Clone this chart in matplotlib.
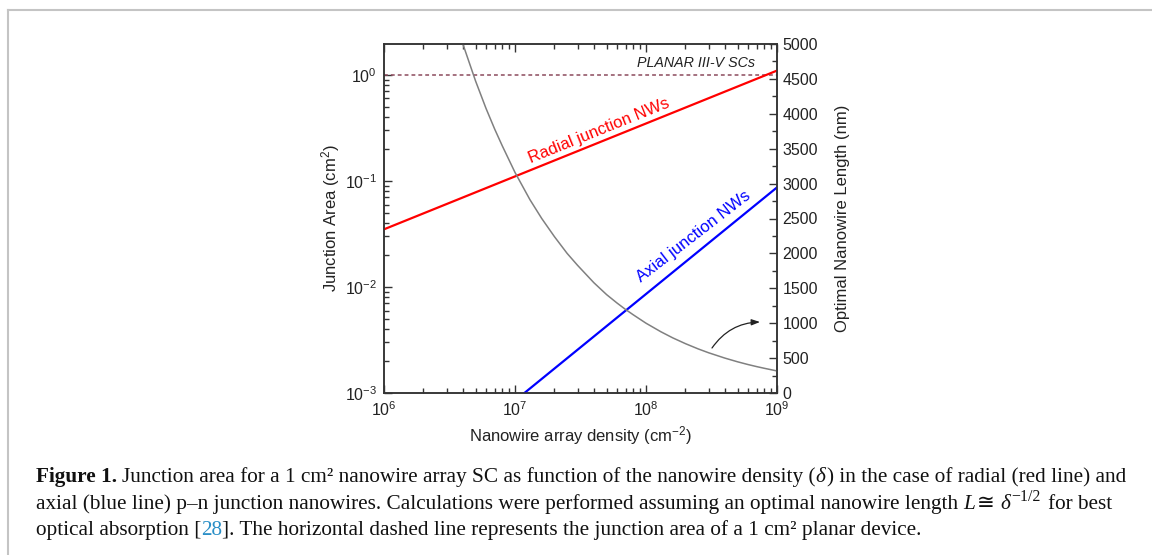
import numpy as np
import matplotlib
matplotlib.use("Agg")
import matplotlib.pyplot as plt
from matplotlib.lines import Line2D
from matplotlib.ticker import LogLocator, MultipleLocator, NullFormatter, LogFormatterSciNotation

plt.rcParams['font.family'] = ['Liberation Sans', 'DejaVu Sans']
plt.rcParams['mathtext.fontset'] = 'custom'
plt.rcParams['mathtext.rm'] = 'Liberation Sans'
plt.rcParams['mathtext.it'] = 'Liberation Sans:italic'
plt.rcParams['axes.unicode_minus'] = False

# ---------------- data ----------------
radial_density = [1e6, 1e9]
radial_area = [0.035, 1.1]
axial_density = [1.18e7, 1e9]
axial_area = [1e-3, 0.087]
planar_area = 1.0
length_density = [4.0e6, 5e6, 6e6, 7e6, 8e6, 1e7, 1.3e7, 1.6e7, 2e7, 2.5e7, 3e7, 4e7,
                  5e7, 6e7, 7e7, 8e7, 1e8, 1.3e8, 1.6e8, 2e8, 2.5e8, 3e8, 4e8, 5e8,
                  6e8, 7e8, 8e8, 1e9]
length_nm = [5000, 4470, 4080, 3780, 3540, 3160, 2770, 2500, 2240, 2000, 1830, 1580,
             1410, 1290, 1195, 1120, 1000, 877, 790, 707, 632, 577, 500, 447,
             408, 378, 354, 316]

W, H = 1152, 555
fig = plt.figure(figsize=(W / 100, H / 100), dpi=100)
ax = fig.add_axes([384 / W, 1 - 393 / H, (777 - 384) / W, (393 - 44) / H])
ax2 = ax.twinx()

ax.set_xscale('log')
ax.set_yscale('log')
ax.set_xlim(1e6, 1e9)
ax.set_ylim(1e-3, 1.96)
ax2.set_ylim(0, 5000)

ax.plot(radial_density, radial_area, color='#ff0000', lw=1.6, zorder=3)
ax.plot(axial_density, axial_area, color='#0000ff', lw=1.6, zorder=3)
ax.axhline(planar_area, color='#8b4a5c', lw=1.1, ls=(0, (2.5, 2)), zorder=2)
ax2.plot(length_density, length_nm, color='#808080', lw=1.1, zorder=2)

# tick styling
for a in (ax, ax2):
    for s in a.spines.values():
        s.set_linewidth(1.1)
        s.set_color('#333333')
ax.tick_params(axis='both', which='major', direction='in', length=6, width=1.0,
               labelsize=11.5, colors='#333333', labelcolor='#222222', pad=5)
ax.tick_params(axis='both', which='minor', direction='in', length=3.5, width=1.0, colors='#333333')
ax.tick_params(axis='x', which='both', top=True)
ax.tick_params(axis='y', which='both', right=False)
ax.xaxis.set_major_locator(LogLocator(base=10, numticks=10))
ax.xaxis.set_minor_locator(LogLocator(base=10, subs=np.arange(2, 10), numticks=20))
ax.yaxis.set_major_locator(LogLocator(base=10, numticks=10))
ax.yaxis.set_minor_locator(LogLocator(base=10, subs=np.arange(2, 10), numticks=20))
ax.xaxis.set_minor_formatter(NullFormatter())
ax.yaxis.set_minor_formatter(NullFormatter())
ax.xaxis.set_major_formatter(LogFormatterSciNotation())
ax.yaxis.set_major_formatter(LogFormatterSciNotation())

ax2.yaxis.set_major_locator(MultipleLocator(500))
ax2.yaxis.set_minor_locator(MultipleLocator(250))
ax2.tick_params(axis='y', which='major', direction='in', length=6, width=1.0,
                labelsize=11.5, colors='#333333', labelcolor='#222222', pad=4)
ax2.tick_params(axis='y', which='minor', direction='in', length=3.5, width=1.0, colors='#333333')

ax.set_xlabel('Nanowire array density (cm$^{-2}$)', fontsize=12, color='#222222', labelpad=4)
ax.set_ylabel('Junction Area (cm$^{2}$)', fontsize=12, color='#222222', labelpad=2)
ax2.set_ylabel('Optimal Nanowire Length (nm)', fontsize=12, color='#222222', labelpad=12)

# annotations
fig.canvas.draw()
def angle_of(xs, ys):
    p = ax.transData.transform(np.column_stack([xs, ys]))
    return np.degrees(np.arctan2(p[1, 1] - p[0, 1], p[1, 0] - p[0, 0]))

inv = ax.transData.inverted()
def px_to_data(x, y):
    return inv.transform((x, H - y))

rx, ry = px_to_data(599, 131)
ax.text(rx, ry, 'Radial junction NWs', color='#ff0000', fontsize=12,
        rotation=angle_of(radial_density, radial_area), rotation_mode='anchor',
        ha='center', va='center')
bx, by = px_to_data(694, 236)
ax.text(bx, by, 'Axial junction NWs', color='#0000ff', fontsize=12,
        rotation=angle_of(axial_density, axial_area) - 1.5, rotation_mode='anchor',
        ha='center', va='center')
px_, py_ = px_to_data(755, 67)
ax.text(px_, py_, 'PLANAR III-V SCs', style='italic', fontsize=10.3, color='#222222',
        ha='right', va='baseline')

inv2 = ax2.transData.inverted()
s = inv2.transform((712, H - 348))
e = inv2.transform((760, H - 322))
ax2.annotate('', xy=e, xytext=s,
             arrowprops=dict(arrowstyle='-|>,head_length=0.5,head_width=0.18', color='#222222',
                             lw=0.9, connectionstyle='arc3,rad=-0.25', shrinkA=0, shrinkB=0))

# frame lines of the page
fig.add_artist(Line2D([8 / W, 1], [1 - 10 / H, 1 - 10 / H], color='#c4c4c4', lw=1.5))
fig.add_artist(Line2D([8 / W, 8 / W], [0, 1 - 10 / H], color='#c4c4c4', lw=1.5))

# ---------------- caption ----------------
renderer = fig.canvas.get_renderer()
SERIF = ['Liberation Serif', 'DejaVu Serif', 'DejaVu Sans']
LINK = '#2a8fc7'

def style_kw(st, fs):
    if st == 'b':
        return dict(fontweight='bold', fontsize=fs, color='#111111')
    if st == 'i':
        return dict(style='italic', fontsize=fs, color='#111111')
    if st == 'sup':
        return dict(fontsize=fs * 0.75, color='#111111')
    if st == 'link':
        return dict(fontsize=fs, color=LINK)
    return dict(fontsize=fs, color='#111111')

caption_lines = [
    [("Figure 1.", 'b', False),
     ("Junction area for a 1 cm\u00b2 nanowire array SC as function of the nanowire density (", 'n', True),
     ("\u03b4", 'i', False),
     (") in the case of radial (red line) and", 'n', False)],
    [("axial (blue line) p\u2013n junction nanowires. Calculations were performed assuming an optimal nanowire length", 'n', False),
     ("L", 'i', True), ("\u2245", 'n', False), ("\u03b4", 'i', True), ("\u22121/2", 'sup', False),
     ("for best", 'n', True)],
    [("optical absorption [", 'n', False), ("28", 'link', False),
     ("]. The horizontal dashed line represents the junction area of a 1 cm\u00b2 planar device.", 'n', False)],
]
baselines = [482, 509, 535]
x_start = 36

def measure(txt, kw):
    t = fig.text(0, 0, txt, family=SERIF, **kw)
    w = t.get_window_extent(renderer).width
    t.remove()
    return w

def layout(fs, draw):
    widths = []
    sp = measure("a a", style_kw('n', fs)) - measure("aa", style_kw('n', fs))
    for line, base in zip(caption_lines, baselines):
        x = x_start
        for txt, st, gap in line:
            if gap:
                x += sp
            kw = style_kw(st, fs)
            yb = base - (fs * 0.55 if st == 'sup' else 0)
            t = fig.text(x / W, 1 - yb / H, txt, family=SERIF, ha='left', va='baseline', **kw)
            x += t.get_window_extent(renderer).width + (1.5 if st in ('i', 'sup') else 0)
            if not draw:
                t.remove()
        widths.append(x - x_start)
    return widths

fs0 = 13.0
w0 = layout(fs0, False)[0]
fs = fs0 * (1120 - x_start) / w0
layout(fs, True)

fig.savefig('out.png', dpi=100)
